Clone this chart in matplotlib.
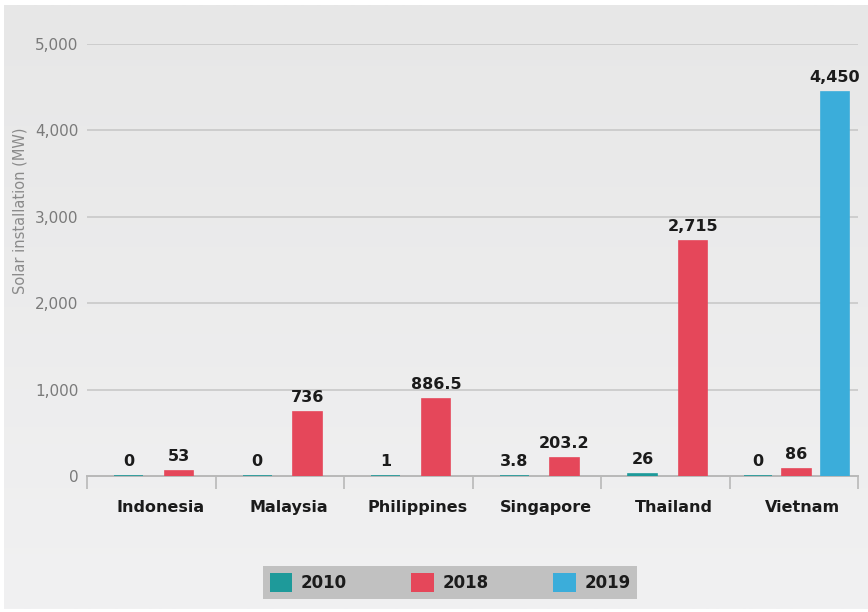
import numpy as np
import matplotlib
matplotlib.use('Agg')
import matplotlib.pyplot as plt
from matplotlib.patches import Patch

countries = ['Indonesia', 'Malaysia', 'Philippines', 'Singapore', 'Thailand', 'Vietnam']
years = ['2010', '2018', '2019']
mw_2010 = [0, 0, 1, 3.8, 26, 0]
mw_2018 = [53, 736, 886.5, 203.2, 2715, 86]
mw_2019 = [None, None, None, None, None, 4450]
yticks = [0, 1000, 2000, 3000, 4000, 5000]

colors = ['#1e9a9a', '#e5475a', '#3badda']
series = [mw_2010, mw_2018, mw_2019]

W, H = 868, 612
fig = plt.figure(figsize=(W / 100, H / 100), dpi=100)
fig.patch.set_facecolor('white')

# soft grey panel behind everything, a bit lighter toward the bottom
bg = fig.add_axes([4 / W, 3 / H, 1 - 4 / W, 1 - 8 / H], zorder=-10)
grad = np.linspace(0, 1, 512).reshape(-1, 1)
bg.imshow(grad, aspect='auto', interpolation='bilinear',
          cmap=matplotlib.colors.LinearSegmentedColormap.from_list('bg', ['#e7e7e7', '#f1f1f2'], N=1024),
          extent=[0, 1, 0, 1], origin='upper')
bg.axis('off')

ax = fig.add_axes([87 / W, 1 - 476 / H, (858 - 87) / W, (476 - 44) / H])
ax.patch.set_alpha(0)

bar_w = 0.222
for i, c in enumerate(countries):
    present = [k for k, s in enumerate(series) if s[i] is not None]
    n = len(present)
    step = 0.39 if n == 2 else 0.30
    for j, k in enumerate(present):
        x = i + 0.02 + (j - (n - 1) / 2) * step
        v = series[k][i]
        ax.bar(x, v, width=bar_w, color=colors[k], edgecolor=colors[k],
               linewidth=1.2, zorder=3)
        ax.annotate(format(v, ',g'), (x, v), xytext=(0, 5), textcoords='offset points',
                    ha='center', va='bottom', fontsize=11.5, fontweight='bold',
                    color='#1b1b1b', zorder=4)

ax.set_xlim(-0.5, len(countries) - 0.5)
ax.set_ylim(0, 5000)

ax.set_yticks(yticks)
ax.set_yticklabels([format(t, ',') for t in yticks])
ax.tick_params(axis='y', length=0, pad=6, labelsize=11, labelcolor='#7a7a7a')
for t in yticks[1:]:
    ax.axhline(t, color='#cbcbcb', linewidth=1.3, zorder=1)

ax.set_xticks(np.arange(len(countries)) + 0.07)
ax.set_xticklabels(countries, fontsize=11.5, fontweight='bold', color='#1b1b1b')
ax.set_xticks(np.arange(len(countries) + 1) - 0.5, minor=True)
ax.tick_params(axis='x', which='major', length=0, pad=17)
ax.tick_params(axis='x', which='minor', length=9, width=1.2, color='#b8b8b8', direction='out')

for side in ['top', 'right', 'left']:
    ax.spines[side].set_visible(False)
ax.spines['bottom'].set_color('#b8b8b8')
ax.spines['bottom'].set_linewidth(1.4)

fig.text(20 / W, 1 - 211 / H, 'Solar installation (MW)', rotation=90,
         ha='center', va='center', fontsize=10.5, color='#8a8a8a')

handles = [Patch(facecolor=col, edgecolor='none') for col in colors]
leg = fig.legend(handles, years, loc='center', bbox_to_anchor=(450 / W, 1 - 582.5 / H),
                 ncol=3, frameon=True, fancybox=False, framealpha=1,
                 handlelength=1.35, handleheight=1.35, handletextpad=0.5,
                 columnspacing=3.9, borderpad=0.4, borderaxespad=0,
                 prop={'size': 12, 'weight': 'bold'})
leg.get_frame().set_facecolor('#c1c1c1')
leg.get_frame().set_edgecolor('none')
for t in leg.get_texts():
    t.set_color('#1b1b1b')

fig.savefig('out.png', dpi=100, facecolor=fig.get_facecolor())
